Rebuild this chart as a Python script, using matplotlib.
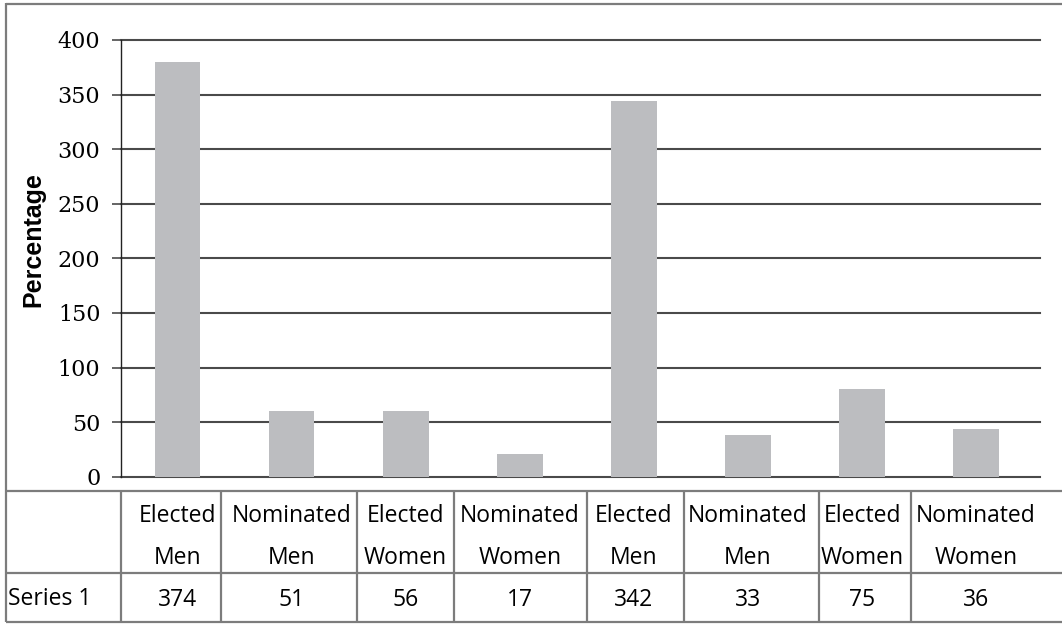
import matplotlib
matplotlib.use("Agg")
import matplotlib.pyplot as plt
import matplotlib.transforms as mtransforms

# ---- data ----
categories_line1 = ["Elected", "Nominated", "Elected", "Nominated",
                    "Elected", "Nominated", "Elected", "Nominated"]
categories_line2 = ["Men", "Men", "Women", "Women",
                    "Men", "Men", "Women", "Women"]
bar_values = [380, 60, 60, 21, 344, 38, 80, 44]          # bar heights as drawn
table_values = [374, 51, 56, 17, 342, 33, 75, 36]         # numbers printed in table
series_name = "Series 1"
y_ticks = [0, 50, 100, 150, 200, 250, 300, 350, 400]
y_label = "Percentage"

# ---- layout (pixels) ----
W, H = 1062, 624
DPI = 100
fig = plt.figure(figsize=(W / DPI, H / DPI), dpi=DPI)
fig.patch.set_facecolor("white")

def fx(px):
    return px / W

def fy(py):
    return 1 - py / H

ax_left, ax_right = 120.5, 1040
ax_top, ax_bottom = 40, 476.7
ax = fig.add_axes([fx(ax_left), fy(ax_bottom), fx(ax_right - ax_left),
                   (ax_bottom - ax_top) / H])

x = list(range(len(bar_values)))
ax.bar(x, bar_values, width=0.40, color="#BCBDC0", zorder=3)
ax.set_xlim(-0.5, len(x) - 0.5 + 0.06)
ax.set_ylim(0, 400)
ax.set_yticks(y_ticks)
ax.set_yticklabels([str(t) for t in y_ticks], family="DejaVu Serif",
                   fontsize=16, color="black")
ax.set_xticks([])
ax.yaxis.grid(True, color="#4a4a4a", lw=1.5, zorder=1)
ax.tick_params(axis="y", length=6.5, width=1.2, color="#4a4a4a", pad=8)
for s in ["top", "right", "bottom"]:
    ax.spines[s].set_visible(False)
ax.spines["left"].set_color("#222222")
ax.spines["left"].set_linewidth(1.0)
ax.set_facecolor("none")
for gl in ax.get_ygridlines():
    gl.set_clip_on(False)

fig.text(fx(33), fy(240), y_label, rotation=90, ha="center", va="center",
         family="Liberation Sans", fontweight="bold", fontsize=18,
         color="black")

# ---- table overlay ----
tab = fig.add_axes([0, 0, 1, 1], zorder=-1)
tab.set_xlim(0, W)
tab.set_ylim(H, 0)
tab.axis("off")

line_col = "#7c7c7c"
lw = 1.6
# outer frame: top and left
tab.plot([6, W], [3.8, 3.8], color=line_col, lw=lw, solid_capstyle="butt")
tab.plot([6, 6], [3, 622], color=line_col, lw=lw, solid_capstyle="butt")
# horizontal table lines
for yy in [490.5, 572.5, 621.5]:
    tab.plot([6, W], [yy, yy], color=line_col, lw=lw, solid_capstyle="butt")
# vertical column separators
col_edges = [121, 221, 357, 454, 587, 684, 819, 911]
for xx in col_edges:
    tab.plot([xx, xx], [490.5, 621.5], color=line_col, lw=lw,
             solid_capstyle="butt")

# text centered at category positions
blend = mtransforms.blended_transform_factory(ax.transData, tab.transData)
tfont = dict(family="Open Sans", fontsize=16.5, color="black")
for i in x:
    tab.text(i, 521.7, categories_line1[i], transform=blend, ha="center",
             va="baseline", **tfont)
    tab.text(i, 564.3, categories_line2[i], transform=blend, ha="center",
             va="baseline", **tfont)
    tab.text(i, 606, str(table_values[i]), transform=blend, ha="center",
             va="baseline", **tfont)
tab.text(8, 605, series_name, ha="left", va="baseline", **tfont)

fig.savefig("out.png", dpi=DPI, facecolor="white")
